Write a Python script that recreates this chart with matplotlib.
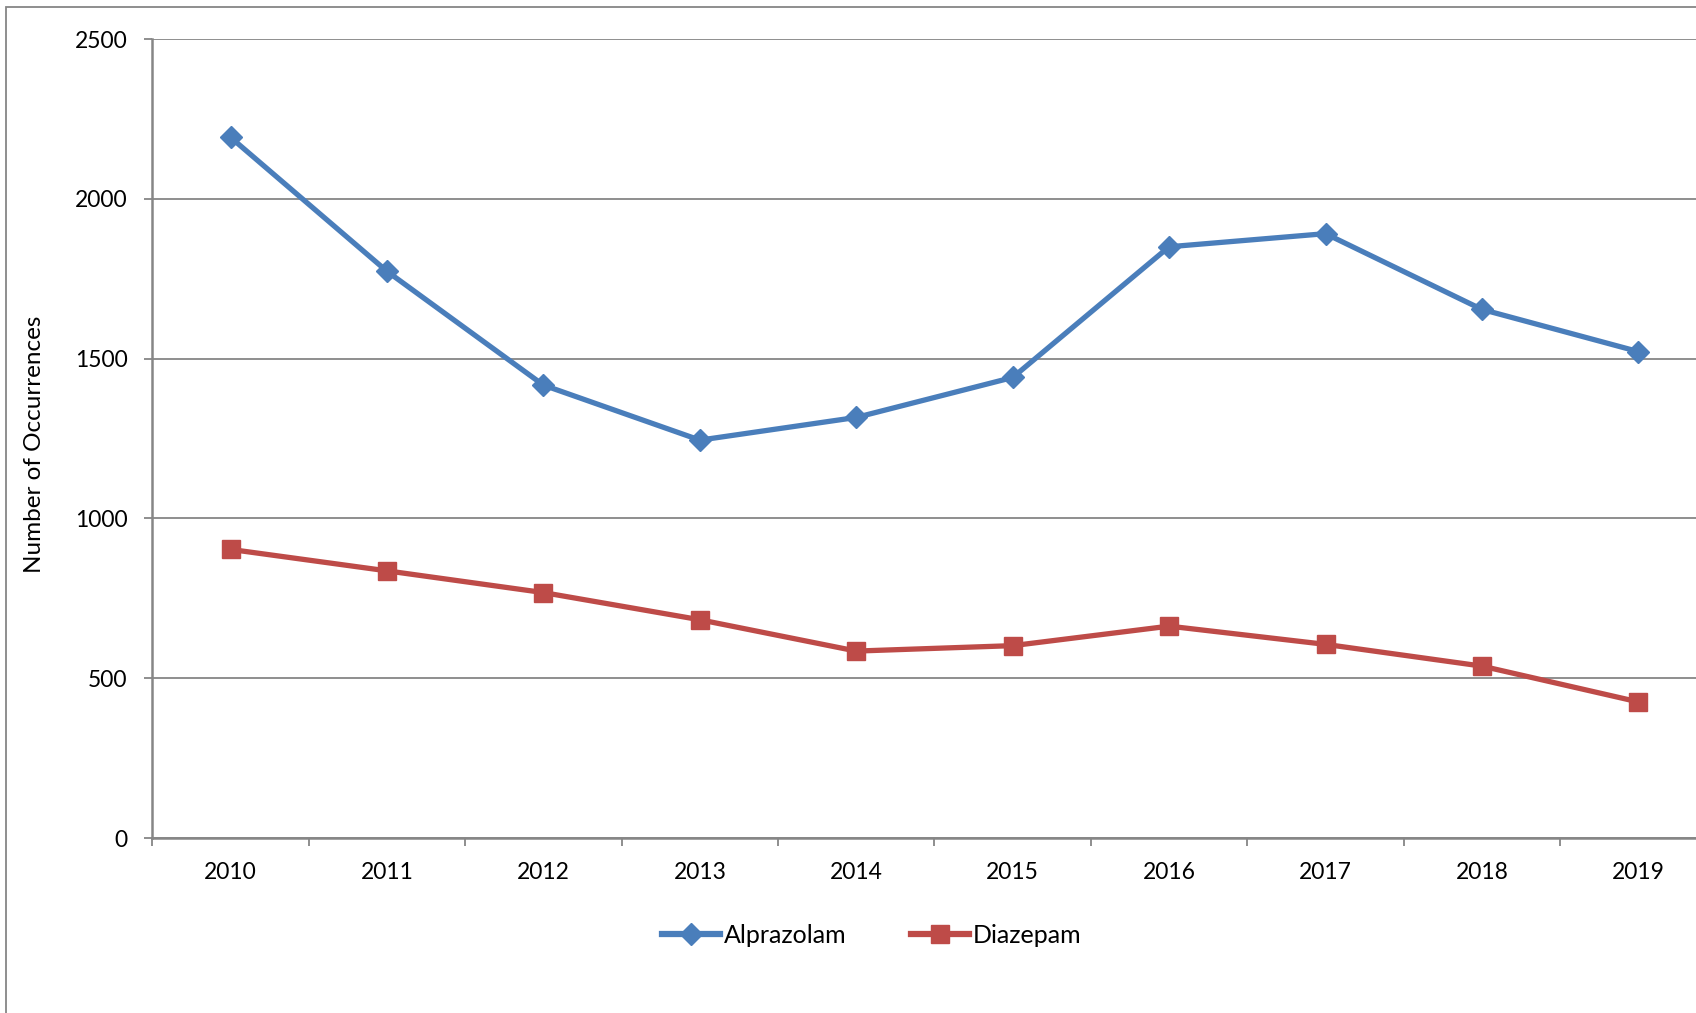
import numpy as np
import matplotlib.pyplot as plt
from matplotlib.patches import Rectangle

years = ['2010', '2011', '2012', '2013', '2014', '2015', '2016', '2017', '2018', '2019']
alprazolam = [2192, 1773, 1417, 1245, 1316, 1441, 1850, 1891, 1654, 1522]
diazepam = [903, 836, 768, 683, 585, 602, 663, 606, 538, 426]

plt.rcParams['font.family'] = ['Lato', 'DejaVu Sans']
gray = '#868686'

fig = plt.figure(figsize=(16.96, 10.13), dpi=100)
ax = fig.add_axes([0.0899, 0.1727, 0.9222, 0.7888])

x = np.arange(len(years))
ax.plot(x, alprazolam, color='#4a7ebb', lw=3.8, marker='D', markersize=11, label='Alprazolam')
ax.plot(x, diazepam, color='#be4b48', lw=3.8, marker='s', markersize=13, label='Diazepam')

ax.set_xlim(-0.5, len(years) - 0.5)
ax.set_ylim(0, 2500)
ax.set_yticks(np.arange(0, 2501, 500))
ax.yaxis.grid(True, color=gray, lw=1.3)
ax.set_axisbelow(True)

# ticks at category borders, labels at centres
ax.set_xticks(np.arange(-0.5, len(years), 1.0))
ax.set_xticklabels([])
ax.set_xticks(x, minor=True)
ax.set_xticklabels(years, minor=True)
ax.tick_params(axis='x', which='major', length=6, width=1.3, color=gray, direction='out')
ax.tick_params(axis='x', which='minor', length=0, pad=17, labelsize=16.5)
ax.tick_params(axis='y', length=6, width=1.3, color=gray, pad=12, labelsize=16.5)

for s in ['top', 'right']:
    ax.spines[s].set_visible(False)
for s in ['left', 'bottom']:
    ax.spines[s].set_color(gray)
    ax.spines[s].set_linewidth(1.8)

fig.text(35 / 1696, 1 - 444 / 1013, 'Number of Occurrences', rotation=90,
         ha='center', va='center', fontsize=17.5)

leg = fig.legend(loc='center', bbox_to_anchor=(0.514, 1 - 935 / 1013), ncol=2, frameon=False,
                 fontsize=18, handlelength=2.3, handletextpad=0.15, columnspacing=2.6)
for h in leg.legend_handles:
    h.set_linewidth(4.5)

frame = Rectangle((6 / 1696, -0.2), 1.5, 0.2 + 1 - 7 / 1013, transform=fig.transFigure,
                  fill=False, edgecolor=gray, lw=1.3, clip_on=False)
fig.patches.append(frame)

plt.savefig('out.png', dpi=100)
